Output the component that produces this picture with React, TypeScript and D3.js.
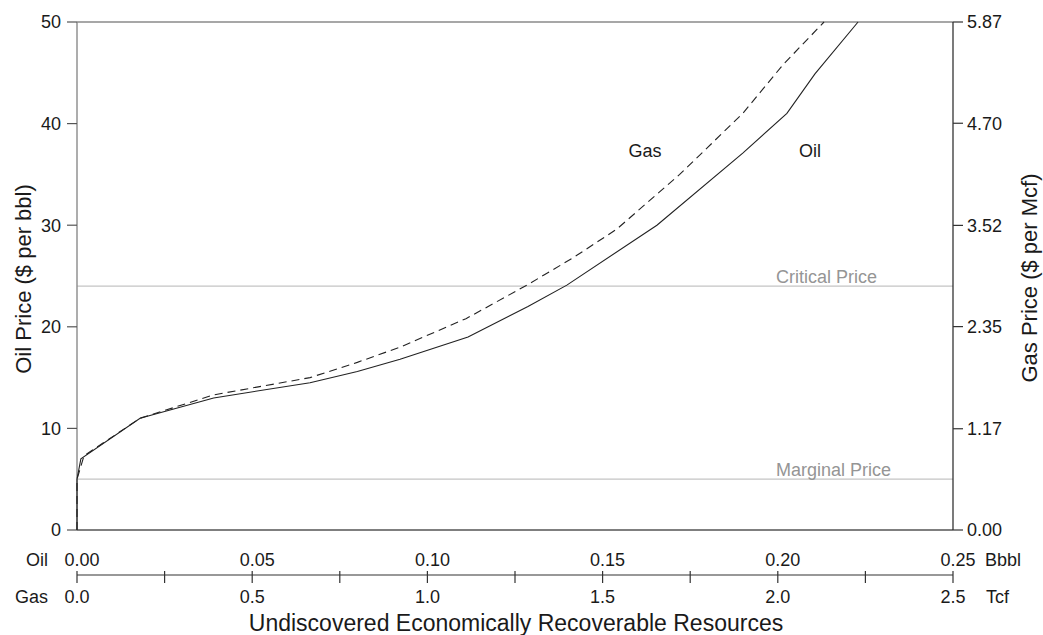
import React from "react";
import * as d3 from "d3";

const oilX = [0, 0, 0.0011, 0.018, 0.039, 0.0665, 0.08, 0.0922, 0.1116, 0.1287, 0.1398, 0.1655, 0.19, 0.2026, 0.2106, 0.2229];
const oilPrice = [0, 5, 7.0, 11.0, 13.0, 14.5, 15.6, 16.8, 19.0, 22.0, 24.1, 30.0, 37.1, 41.0, 44.9, 50];

const gasX = [0, 0, 0.002, 0.018, 0.039, 0.0665, 0.08, 0.0922, 0.111, 0.1284, 0.1416, 0.154, 0.172, 0.19, 0.2015, 0.2132];
const gasPrice = [0, 5, 7.3, 11.0, 13.3, 15.0, 16.5, 18.0, 20.8, 24.1, 26.8, 29.6, 35.0, 41.0, 45.8, 50];

const oilPriceTicks = [0, 10, 20, 30, 40, 50];
const gasPriceTicks = ["0.00", "1.17", "2.35", "3.52", "4.70", "5.87"];
const oilResTicks = ["0.00", "0.05", "0.10", "0.15", "0.20", "0.25"];
const gasResTicks = ["0.0", "0.5", "1.0", "1.5", "2.0", "2.5"];
const gasMinorTicks = [0, 0.25, 0.5, 0.75, 1, 1.25, 1.5, 1.75, 2, 2.25, 2.5];

const criticalPrice = 24;
const marginalPrice = 5;

const FONT = "'Liberation Sans', Arial, Helvetica, sans-serif";

export default function App() {
  const W = 1043, H = 635;
  const left = 77, right = 953, top = 22, bottom = 530;
  const x = d3.scaleLinear().domain([0, 0.25]).range([left, right]);
  const xGas = d3.scaleLinear().domain([0, 2.5]).range([left, right]);
  const y = d3.scaleLinear().domain([0, 50]).range([bottom, top]);
  const yGas = d3.scaleLinear().domain([0, 5.87]).range([bottom, top]);

  const line = d3.line<[number, number]>().x(d => x(d[0])).y(d => y(d[1]));
  const oilPts: [number, number][] = oilX.map((v, i) => [v, oilPrice[i]]);
  const gasPts: [number, number][] = gasX.map((v, i) => [v, gasPrice[i]]);

  const axisY = 575;
  const txt = "#1a1a1a";

  return (
    <svg width={W} height={H} style={{ position: "absolute", left: 0, top: 0, background: "#fff" }} fontFamily={FONT}>
      {/* reference lines */}
      <line x1={left} x2={right} y1={y(criticalPrice)} y2={y(criticalPrice)} stroke="#c4c4c4" strokeWidth={1.2} />
      <line x1={left} x2={right} y1={y(marginalPrice)} y2={y(marginalPrice)} stroke="#c4c4c4" strokeWidth={1.2} />
      <text x={776} y={y(criticalPrice) - 3} fontSize={18} fill="#959595">Critical Price</text>
      <text x={776} y={y(marginalPrice) - 3} fontSize={18} fill="#959595">Marginal Price</text>

      {/* frame */}
      <line x1={left} x2={right} y1={top} y2={top} stroke="#8a8a8a" strokeWidth={1.4} />
      <line x1={left} x2={right} y1={bottom} y2={bottom} stroke="#555" strokeWidth={1.4} />
      <line x1={left} x2={left} y1={top} y2={bottom} stroke="#8a8a8a" strokeWidth={1.4} />
      <line x1={right} x2={right} y1={top} y2={bottom} stroke="#222" strokeWidth={1.2} />

      {/* left ticks */}
      {oilPriceTicks.map(t => (
        <g key={"l" + t}>
          <line x1={left - 10} x2={left} y1={y(t)} y2={y(t)} stroke="#555" strokeWidth={1.2} />
          <text x={61} y={y(t)} dy="0.36em" textAnchor="end" fontSize={18} fill={txt}>{t}</text>
        </g>
      ))}
      {/* right ticks */}
      {gasPriceTicks.map(t => (
        <g key={"r" + t}>
          <line x1={right} x2={right + 10} y1={yGas(+t)} y2={yGas(+t)} stroke="#333" strokeWidth={1.2} />
          <text x={967} y={yGas(+t)} dy="0.36em" textAnchor="start" fontSize={18} fill={txt}>{t}</text>
        </g>
      ))}

      {/* curves */}
      <path d={line(oilPts) || ""} fill="none" stroke="#222" strokeWidth={1.1} />
      <path d={line(gasPts) || ""} fill="none" stroke="#222" strokeWidth={1.1} strokeDasharray="8,5" />
      <text x={645} y={157} textAnchor="middle" fontSize={18} fill={txt}>Gas</text>
      <text x={810} y={157} textAnchor="middle" fontSize={18} fill={txt}>Oil</text>

      {/* bottom resource axis */}
      <line x1={left} x2={right} y1={axisY} y2={axisY} stroke="#333" strokeWidth={1.2} />
      {gasMinorTicks.map(t => (
        <line key={"m" + t} x1={xGas(t)} x2={xGas(t)} y1={axisY - 4} y2={axisY + 8} stroke="#333" strokeWidth={1.2} />
      ))}
      <text x={48} y={566} textAnchor="end" fontSize={18} fill={txt}>Oil</text>
      {oilResTicks.map(t => (
        <text key={"o" + t} x={x(+t) + 5} y={566} textAnchor="middle" fontSize={18} fill={txt}>{t}</text>
      ))}
      <text x={985} y={566} fontSize={18} fill={txt}>Bbbl</text>
      <text x={48} y={603} textAnchor="end" fontSize={18} fill={txt}>Gas</text>
      {gasResTicks.map(t => (
        <text key={"g" + t} x={xGas(+t)} y={603} textAnchor="middle" fontSize={18} fill={txt}>{t}</text>
      ))}
      <text x={986} y={603} fontSize={18} fill={txt}>Tcf</text>

      {/* axis titles */}
      <text x={516} y={631} textAnchor="middle" fontSize={23} fill={txt}>Undiscovered Economically Recoverable Resources</text>
      <text transform={`translate(31,279) rotate(-90)`} textAnchor="middle" fontSize={22} fill={txt}>Oil Price ($ per bbl)</text>
      <text transform={`translate(1037,278) rotate(-90)`} textAnchor="middle" fontSize={22} fill={txt}>Gas Price ($ per Mcf)</text>
    </svg>
  );
}
